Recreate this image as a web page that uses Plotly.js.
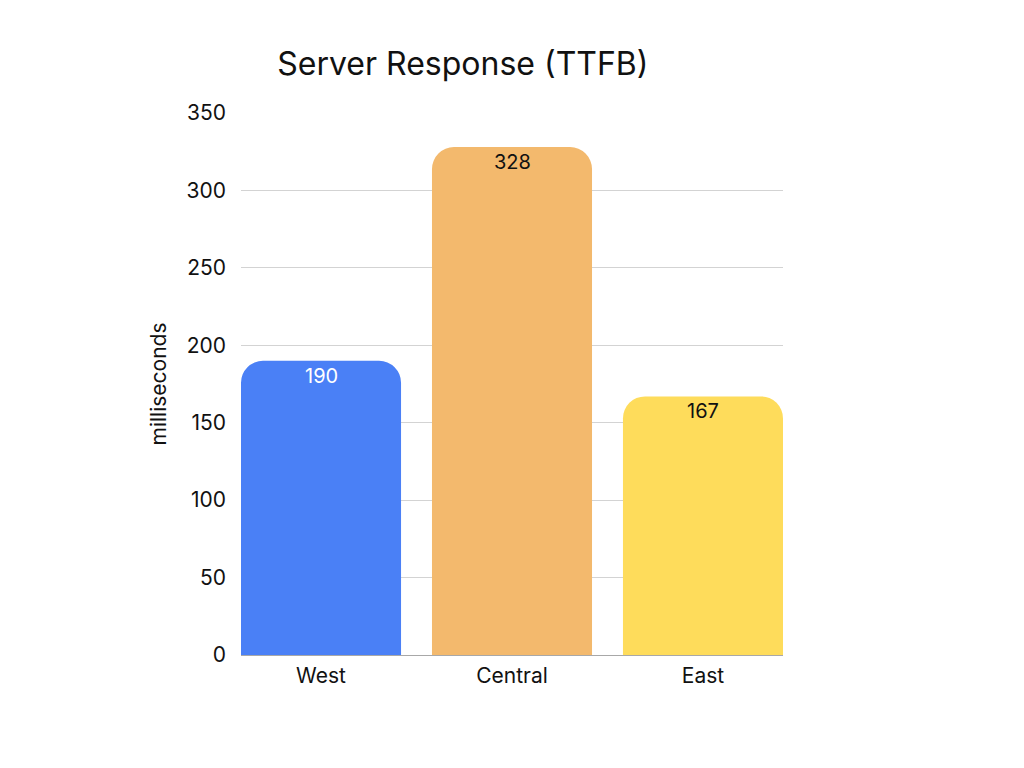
<!DOCTYPE html>
<html>
<head>
<meta charset="utf-8">
<script src="https://cdn.plot.ly/plotly-3.0.1.min.js"></script>
<style>
  html, body { margin: 0; padding: 0; background: #fff; }
  #plot { width: 1024px; height: 768px; }
</style>
</head>
<body>
<div id="plot"></div>
<script>
// data
let regions = ['West', 'Central', 'East'];
let ttfbMs = [190, 328, 167];
let barColors = ['#4A80F6', '#F3B96D', '#FEDC5B'];
let labelColors = ['#ffffff', '#111111', '#111111'];
let yTicks = [0, 50, 100, 150, 200, 250, 300, 350];

let fontFamily = 'Inter, "Open Sans", sans-serif';
let bargap = 0.162;

let trace = {
  type: 'bar',
  x: regions,
  y: ttfbMs,
  marker: { color: barColors, line: { width: 0 } },
  hoverinfo: 'none'
};

// value labels sit just under the rounded top of each bar
let valueLabels = regions.map((r, i) => ({
  x: r,
  y: ttfbMs[i],
  xref: 'x',
  yref: 'y',
  text: String(ttfbMs[i]),
  showarrow: false,
  yanchor: 'top',
  yshift: -1,
  font: { family: fontFamily, size: 20, color: labelColors[i] }
}));

let layout = {
  width: 1024,
  height: 768,
  paper_bgcolor: '#ffffff',
  plot_bgcolor: '#ffffff',
  showlegend: false,
  bargap: bargap,
  barcornerradius: 22,
  font: { family: fontFamily, color: '#111111' },
  title: {
    text: 'Server Response (TTFB)',
    font: { family: fontFamily, size: 32, color: '#111111' },
    xref: 'container',
    x: 0.452,
    xanchor: 'center',
    yref: 'container',
    y: 1 - 64 / 768,
    yanchor: 'middle'
  },
  margin: { l: 241, r: 241, t: 113, b: 113 },
  annotations: valueLabels,
  xaxis: {
    type: 'category',
    range: [-0.5 + bargap / 2, 2.5 - bargap / 2],
    showgrid: false,
    zeroline: false,
    showline: false,
    ticks: '',
    ticklabelstandoff: 6,
    tickfont: { family: fontFamily, size: 21, color: '#111111' }
  },
  yaxis: {
    range: [0, 350],
    tickvals: yTicks,
    ticktext: yTicks.map(String),
    showgrid: true,
    gridcolor: '#d3d3d3',
    gridwidth: 1,
    zeroline: true,
    zerolinecolor: '#a8a8a8',
    zerolinewidth: 1,
    showline: false,
    ticks: '',
    ticklabelstandoff: 14,
    tickfont: { family: fontFamily, size: 21, color: '#111111' },
    title: {
      text: 'milliseconds',
      font: { family: fontFamily, size: 21, color: '#111111' },
      standoff: 14
    }
  }
};

Plotly.newPlot('plot', [trace], layout, { staticPlot: true });
</script>
</body>
</html>
